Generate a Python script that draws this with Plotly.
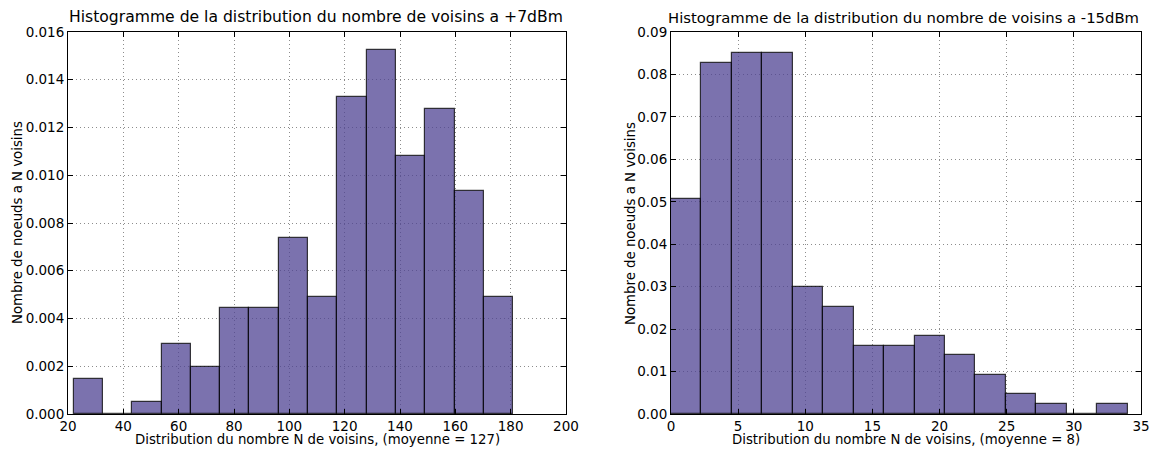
import numpy as np
import plotly.graph_objects as go

# Densities of the neighbour-count histograms (15 bins each)
dens_7dbm = [0.00147, 0.0, 0.00049, 0.00295, 0.00197, 0.00442, 0.00442, 0.00737,
             0.00491, 0.01327, 0.01523, 0.01081, 0.01278, 0.00934, 0.00491]
dens_m15dbm = [0.05055, 0.0827, 0.0850, 0.0850, 0.02988, 0.02528, 0.01609, 0.01609,
               0.01839, 0.01379, 0.00919, 0.0046, 0.0023, 0.0, 0.0023]

# Bin ranges of each histogram
range_7dbm = (22, 181)
range_m15dbm = (0, 34)
nbins = 15

titles = ["Histogramme de la distribution du nombre de voisins a +7dBm",
          "Histogramme de la distribution du nombre de voisins a -15dBm"]
xlabels = ["Distribution du nombre N de voisins, (moyenne = 127)",
           "Distribution du nombre N de voisins, (moyenne = 8)"]
ylabel = "Nombre de noeuds a N voisins"

W, H = 1150, 450
FONT = "DejaVu Sans"
FILL = "rgba(79,67,147,0.75)"
EDGE = "rgba(0,0,0,0.75)"

# plot areas in pixels: (left, right, top, bottom)
boxes = [(68, 566, 32, 414), (671, 1141, 32, 414)]
title_pos = [(316, 15.6), (903, 14.8)]  # (centre x, font size)

fig = go.Figure()

for i, (dens, (lo, hi)) in enumerate([(dens_7dbm, range_7dbm), (dens_m15dbm, range_m15dbm)]):
    edges = np.linspace(lo, hi, nbins + 1)
    bw = edges[1] - edges[0]
    fig.add_trace(go.Bar(
        x=edges[:-1], y=dens, width=bw, offset=0,
        marker=dict(color=FILL, line=dict(color=EDGE, width=1.2)),
        xaxis="x" if i == 0 else "x2", yaxis="y" if i == 0 else "y2",
        showlegend=False, hoverinfo="x+y",
    ))

def axis_common():
    return dict(
        showline=True, linecolor="black", linewidth=1, mirror="ticks",
        ticks="inside", ticklen=5, tickcolor="black",
        showgrid=True, gridcolor="#8c8c8c", gridwidth=1, griddash="1px,3px",
        zeroline=False, automargin=False,
        tickfont=dict(family=FONT, size=13.5, color="black"),
    )

def dom_x(b):
    return [b[0] / W, b[1] / W]

def dom_y(b):
    return [(H - b[3]) / H, (H - b[2]) / H]

fig.update_layout(
    width=W, height=H,
    margin=dict(l=0, r=0, t=0, b=0),
    paper_bgcolor="white", plot_bgcolor="white",
    bargap=0,
    font=dict(family=FONT, color="black"),
    xaxis=dict(domain=dom_x(boxes[0]), range=[20, 200], tickvals=list(range(20, 201, 20)),
               anchor="y", **axis_common()),
    yaxis=dict(domain=dom_y(boxes[0]), range=[0, 0.016], dtick=0.002, tickformat=".3f",
               anchor="x", **axis_common()),
    xaxis2=dict(domain=dom_x(boxes[1]), range=[0, 35], tickvals=list(range(0, 36, 5)),
                anchor="y2", **axis_common()),
    yaxis2=dict(domain=dom_y(boxes[1]), range=[0, 0.09], dtick=0.01, tickformat=".2f",
                anchor="x2", **axis_common()),
)

ann = []
for b, t, (tx, ts), xl, ylx in zip(boxes, titles, title_pos, xlabels, [17, 630]):
    cx = (b[0] + b[1]) / 2 / W
    ann.append(dict(text=t, x=tx / W, y=(H - 17) / H, xref="paper", yref="paper",
                    showarrow=False, font=dict(family=FONT, size=ts, color="black"),
                    xanchor="center", yanchor="middle"))
    ann.append(dict(text=xl, x=cx, y=(H - 439) / H, xref="paper", yref="paper",
                    showarrow=False, font=dict(family=FONT, size=13.3, color="black"),
                    xanchor="center", yanchor="middle"))
    ann.append(dict(text=ylabel, x=ylx / W, y=((H - b[3]) + (H - b[2])) / 2 / H,
                    xref="paper", yref="paper", textangle=-90, showarrow=False,
                    font=dict(family=FONT, size=13.3, color="black"),
                    xanchor="center", yanchor="middle"))
fig.update_layout(annotations=ann)

fig.write_html("out.html")
